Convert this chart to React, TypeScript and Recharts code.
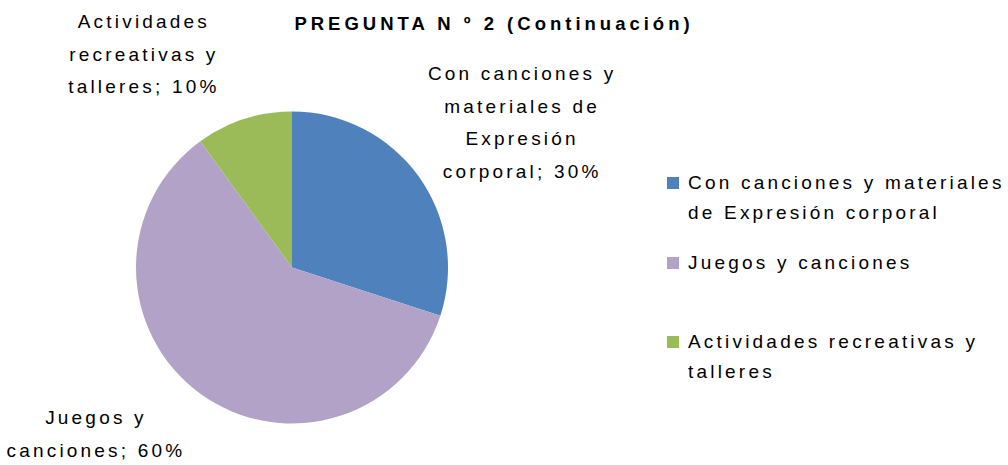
import { PieChart, Pie, Cell, Legend } from 'recharts';

const categories = [
    'Con canciones y materiales de Expresión corporal',
    'Juegos y canciones',
    'Actividades recreativas y talleres',
];
const values = [30, 60, 10];
const colors = ['#4F81BD', '#B2A2C7', '#9BBB59'];

// how the data labels wrap, as in the original
const labelLines = [
    ['Con canciones y', 'materiales de', 'Expresión', 'corporal; 30%'],
    ['Juegos y', 'canciones; 60%'],
    ['Actividades', 'recreativas y', 'talleres; 10%'],
];
const legendLines = [
    ['Con canciones y materiales', 'de Expresión corporal'],
    ['Juegos y canciones'],
    ['Actividades recreativas y', 'talleres'],
];

// label anchor (angle in degrees, distance from centre)
const labelPlacement = [
    { angle: 32.5, dist: 271 },
    { angle: 220, dist: 258 },
    { angle: 125, dist: 261 },
];

const data = categories.map((name, i) => ({ name, value: values[i] }));

const FONT = '"Liberation Sans", Arial, sans-serif';
const RAD = Math.PI / 180;
const TEXT_SIZE = 19;
const SPACING = 3.2;

const renderLabel = (props: any) => {
    const { cx, cy, index } = props;
    const p = labelPlacement[index];
    const x = cx + p.dist * Math.cos(-p.angle * RAD) + SPACING / 2;
    const y = cy + p.dist * Math.sin(-p.angle * RAD);
    const lines = labelLines[index];
    const lh = 32.7;
    const y0 = y - ((lines.length - 1) * lh) / 2;
    return (
        <text
            x={x}
            y={y0}
            textAnchor="middle"
            dominantBaseline="central"
            fill="#000"
            fontSize={TEXT_SIZE}
            fontFamily={FONT}
            letterSpacing={SPACING}
        >
            {lines.map((l, i) => (
                <tspan key={i} x={x} y={y0 + i * lh} dominantBaseline="central">
                    {l}
                </tspan>
            ))}
        </text>
    );
};

const renderLegend = () => (
    <div style={{ fontFamily: FONT, fontSize: TEXT_SIZE, letterSpacing: SPACING, color: '#000', position: 'relative' }}>
        {legendLines.map((lines, i) => (
            <div key={i} style={{ position: 'absolute', left: 0, top: i * 79.5, width: 341 }}>
                <div
                    style={{
                        position: 'absolute',
                        left: 0,
                        top: 4,
                        width: 12,
                        height: 12,
                        background: colors[i],
                    }}
                />
                <div style={{ position: 'absolute', left: 21, top: -5, lineHeight: '29.5px' }}>
                    {lines.map((l, j) => (
                        <div key={j} style={{ whiteSpace: 'nowrap' }}>{l}</div>
                    ))}
                </div>
            </div>
        ))}
    </div>
);

const App = () => {
    return (
        <div style={{ position: 'absolute', left: 0, top: 0, width: 1008, height: 465, background: '#fff' }}>
            <PieChart width={1008} height={465} margin={{ top: 0, right: 0, bottom: 0, left: 0 }}>
                <text
                    x={494}
                    y={23}
                    textAnchor="middle"
                    dominantBaseline="central"
                    fontFamily={FONT}
                    fontWeight="bold"
                    fontSize={18.5}
                    letterSpacing={4}
                    fill="#000"
                >
                    PREGUNTA N º 2 (Continuación)
                </text>
                <Pie
                    data={data}
                    dataKey="value"
                    nameKey="name"
                    cx={292}
                    cy={267.5}
                    outerRadius={156}
                    startAngle={90}
                    endAngle={-270}
                    stroke="none"
                    label={renderLabel}
                    labelLine={false}
                    isAnimationActive={false}
                >
                    {data.map((d, i) => (
                        <Cell key={d.name} fill={colors[i]} />
                    ))}
                </Pie>
                <Legend
                    layout="vertical"
                    content={renderLegend}
                    wrapperStyle={{ position: 'absolute', left: 667, top: 173, width: 341, height: 240 }}
                />
            </PieChart>
        </div>
    );
};

export default App;
